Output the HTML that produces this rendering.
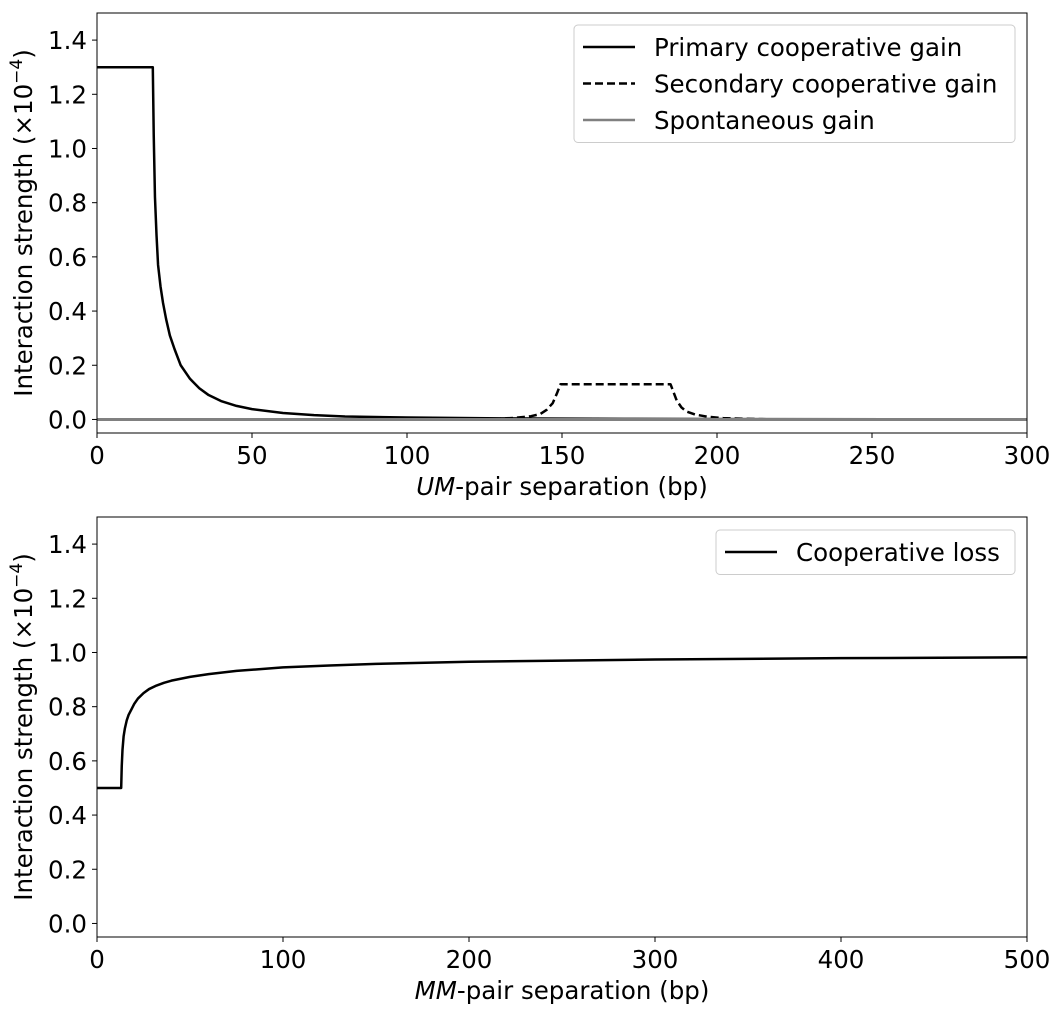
<!DOCTYPE html>
<html><head><meta charset="utf-8"><style>
body{margin:0;background:#fff;}
svg text{font-family:"DejaVu Sans","Liberation Sans",sans-serif;fill:#000;}
</style></head><body>
<svg id="fig" width="1061" height="1014" xmlns="http://www.w3.org/2000/svg"></svg>
<script>
// Top chart data (x in bp, y in 1e-4)
const primaryX=[0,18,18.3,18.7,19.2,19.7,20.5,21.3,22.3,23.5,25,27,30,33,36,40,45,50,60,70,80,100,130,170,300];
const primaryY=[1.3,1.3,1.05,0.82,0.68,0.57,0.49,0.43,0.37,0.31,0.26,0.2,0.15,0.115,0.09,0.068,0.05,0.038,0.024,0.016,0.011,0.007,0.004,0.002,0.0];
const secondaryX=[0,120,130,135,140,143,145,147,148.5,149.5,185,186,187,188.5,190,193,197,202,210,220,300];
const secondaryY=[0,0,0.003,0.006,0.012,0.02,0.035,0.06,0.1,0.13,0.13,0.1,0.07,0.045,0.03,0.018,0.01,0.005,0.002,0,0];
const spontX=[0,300];
const spontY=[0,0];
const topXTicks=[0,50,100,150,200,250,300];
// Bottom chart data
const lossX=[0,13,13.3,13.7,14.3,15,16,17,18.5,20,22,25,28,32,36,40,50,60,75,100,125,150,200,250,300,400,500];
const lossY=[0.5,0.5,0.58,0.64,0.69,0.72,0.75,0.77,0.79,0.81,0.83,0.85,0.865,0.878,0.888,0.896,0.91,0.92,0.932,0.945,0.952,0.958,0.966,0.97,0.974,0.979,0.982];
const botXTicks=[0,100,200,300,400,500];
const yTicks=[0,0.2,0.4,0.6,0.8,1.0,1.2,1.4];

const FS=24.5;
const NS="http://www.w3.org/2000/svg";
const svg=document.getElementById('fig');
function mk(tag,attrs,parent){const e=document.createElementNS(NS,tag);for(const k in attrs)e.setAttribute(k,attrs[k]);(parent||svg).appendChild(e);return e;}

function drawAxes(top,bottom,xmax,xTicks,xlabelItalic,xlabelRest,prefix){
  const L=97,R=1027;
  const ymin=-0.05,ymax=1.5;
  const sx=v=>L+(v/xmax)*(R-L);
  const sy=v=>bottom-(v-ymin)/(ymax-ymin)*(bottom-top);
  const g=mk('g',{});
  
  
  xTicks.forEach(t=>{
    const x=sx(t);
    mk('line',{x1:x,x2:x,y1:bottom,y2:bottom+5,stroke:'#000','stroke-width':1},g);
    const tx=mk('text',{x:x,y:bottom+31,'text-anchor':'middle','font-size':FS},g);
    tx.textContent=String(t);
    
    
  });
  yTicks.forEach(t=>{
    const y=sy(t);
    mk('line',{x1:L-5,x2:L,y1:y,y2:y,stroke:'#000','stroke-width':1},g);
    const tx=mk('text',{x:L-10,y:y+9,'text-anchor':'end','font-size':FS},g);
    tx.textContent=t.toFixed(1);
    
    
  });
  const xl=mk('text',{x:(L+R)/2,y:bottom+62,'text-anchor':'middle','font-size':FS},g);
  xl.innerHTML='<tspan font-style="italic">'+xlabelItalic+'</tspan>'+xlabelRest;
  
  
  const cy=(top+bottom)/2;
  const yl=mk('text',{x:0,y:0,'text-anchor':'middle','font-size':FS,transform:`translate(32,${cy}) rotate(-90)`},g);
  yl.innerHTML='Interaction strength (×10<tspan dy="-10" font-size="17">−4</tspan><tspan dy="10">)</tspan>';
  
  
  return {sx,sy,L,R,top,bottom};
}
function series(ax,xs,ys,attrs,name){
  const d=xs.map((x,i)=>(i?'L':'M')+ax.sx(x).toFixed(2)+','+ax.sy(ys[i]).toFixed(2)).join(' ');
  const p=mk('path',Object.assign({d:d,fill:'none','stroke-width':2.5,'stroke-linejoin':'round'},attrs));
  
  
}
function frame(ax,name){
  const r=mk('rect',{x:ax.L,y:ax.top,width:ax.R-ax.L,height:ax.bottom-ax.top,fill:'none',stroke:'#000','stroke-width':1});
  
  
}
function legend(x,y,w,entries,name){
  const g=mk('g',{});
  
  
  mk('rect',{x:x,y:y,width:w,height:entries.length*36.5+8,rx:4,fill:'#fff',stroke:'#ccc','stroke-width':1},g);
  entries.forEach((e,i)=>{
    const cy=y+22+i*36.5;
    mk('line',{x1:x+9,x2:x+61,y1:cy,y2:cy,stroke:e.c,'stroke-width':2.5,'stroke-dasharray':e.dash||'none'},g);
    const t=mk('text',{x:x+80,y:cy+9,'font-size':FS},g);
    t.textContent=e.t;
    
    
  });
}

const a1=drawAxes(13,433,300,topXTicks,'UM','-pair separation (bp)','top');
series(a1,secondaryX,secondaryY,{stroke:'#000','stroke-dasharray':'8,4'},'secondary-cooperative-gain-line');
series(a1,primaryX,primaryY,{stroke:'#000'},'primary-cooperative-gain-line');
series(a1,spontX,spontY,{stroke:'#808080','stroke-width':3},'spontaneous-gain-line');
frame(a1,'top-plot-frame');
legend(574,25,441,[{t:'Primary cooperative gain',c:'#000'},{t:'Secondary cooperative gain',c:'#000',dash:'8,4'},{t:'Spontaneous gain',c:'#808080'}],'top-legend');

const a2=drawAxes(517,937,500,botXTicks,'MM','-pair separation (bp)','bottom');
series(a2,lossX,lossY,{stroke:'#000'},'cooperative-loss-line');
frame(a2,'bottom-plot-frame');
legend(716,530,299,[{t:'Cooperative loss',c:'#000'}],'bottom-legend');
</script>
</body></html>
